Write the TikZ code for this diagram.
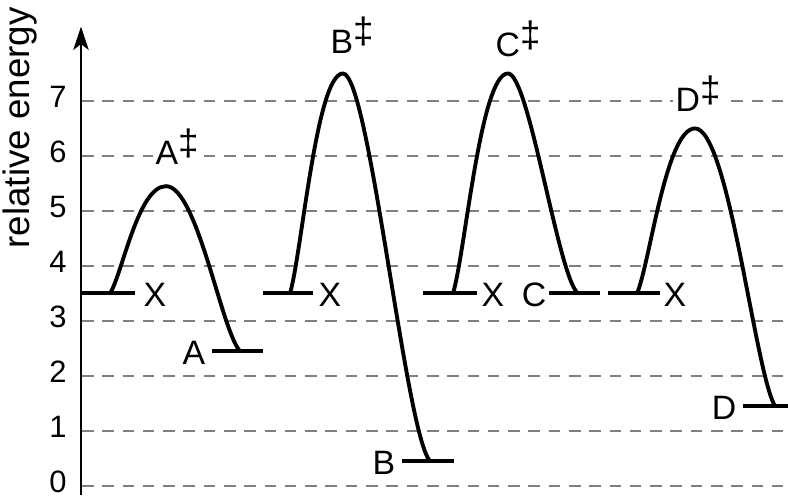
\documentclass[tikz,border=0pt]{standalone}
\usepackage{fontspec}
\setmainfont{Liberation Sans}
\usetikzlibrary{arrows.meta}
\definecolor{gridgray}{RGB}{128,128,128}
\newcommand{\tsmark}{{\fontsize{19}{20}\selectfont\raisebox{5pt}{‡}}}

\begin{document}
\begin{tikzpicture}[x=0.018182cm, y=1cm,
    guide/.style={gridgray, line width=1pt, dash pattern=on 6pt off 4.5pt},
    state/.style={line width=2pt},
    barrier/.style={line width=2pt, line join=round},
    lab/.style={font=\fontsize{17.5}{20}\selectfont, fill=white, inner sep=1.5pt},
    tick/.style={font=\fontsize{16}{19}\selectfont, anchor=east, inner sep=0pt},
    axis/.style={line width=1.1pt, -{Stealth[length=12pt, width=8pt, inset=3pt]}}
]
\useasboundingbox (0,-0.2545) rectangle (788,8.836);

% energy grid and axis
\foreach \e in {0,...,7} {
  \draw[guide] (82,\e) -- (788,\e);
  \node[tick] (t\e) at (67,\e+0.07) {\e};
}
\draw[axis] (81,-0.16) -- (81,8.35);
\node[rotate=90, font=\fontsize{19}{22}\selectfont] (ylab) at (20,6.51) {relative energy};

% reaction X -> A
\draw[state] (82,3.5) -- (135,3.5);
\draw[state] (212,2.45) -- (263,2.45);
\draw[barrier] (110,3.5) .. controls (122.3,3.85) and (138,5.45) .. (166,5.45)
               .. controls (197.1,5.45) and (221.5,2.81) .. (240,2.45);

% reaction X -> B
\draw[state] (263,3.5) -- (313,3.5);
\draw[state] (402,0.45) -- (454,0.45);
\draw[barrier] (290,3.5) .. controls (301.7,4.22) and (316.5,7.5) .. (343,7.5)
               .. controls (369.1,7.5) and (405.6,0.94) .. (430,0.45);

% reaction X -> C
\draw[state] (423,3.5) -- (477,3.5);
\draw[state] (548,3.5) -- (600,3.5);
\draw[barrier] (453,3.5) .. controls (465.1,4.22) and (480.5,7.5) .. (508,7.5)
               .. controls (529,7.5) and (558.4,3.78) .. (578,3.5);

% reaction X -> D
\draw[state] (608,3.5) -- (660,3.5);
\draw[state] (743,1.45) -- (788,1.45);
\draw[barrier] (637,3.5) .. controls (649.8,4.04) and (666,6.5) .. (695,6.5)
               .. controls (728.6,6.5) and (755,2.06) .. (775,1.45);

% labels
\node[lab] (xa) at (155,3.47) {X};
\node[lab] (xb) at (330,3.47) {X};
\node[lab] (xc) at (493,3.47) {X};
\node[lab] (xd) at (675,3.47) {X};
\node[lab] (pa) at (194,2.42) {A};
\node[lab] (pb) at (384,0.42) {B};
\node[lab] (pc) at (534,3.47) {C};
\node[lab] (pd) at (724,1.42) {D};
\node[lab, anchor=base] (tsa) at (177,5.84) {A\tsmark};
\node[lab, anchor=base] (tsb) at (352,7.87) {B\tsmark};
\node[lab, anchor=base] (tsc) at (518,7.80) {C\tsmark};
\node[lab, anchor=base] (tsd) at (698,6.80) {D\tsmark};
\end{tikzpicture}
\end{document}
